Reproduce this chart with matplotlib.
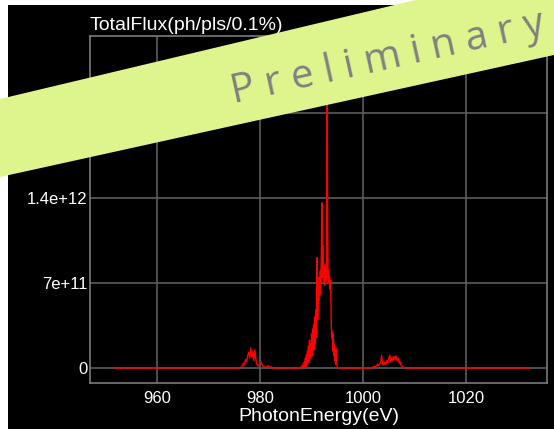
import numpy as np
import matplotlib
matplotlib.use("Agg")
import matplotlib.pyplot as plt
from matplotlib.patches import Rectangle, Polygon

# ---------------- data (flux in units of 1e11 ph/pls/0.1%) ----------------
e_start, e_end = 951.7, 1032.1

c1_start, c1_step = 976.0, 0.2
c1_flux = [0.0, 0.05, 0.1, 0.2, 0.4, 0.3, 0.7, 0.5, 1.0, 1.3,
           0.8, 1.65, 0.9, 1.4, 0.6, 1.5, 0.7, 0.3, 0.15, 0.25,
           0.4, 0.5, 0.3, 0.15, 0.1, 0.05, 0.1, 0.05, 0.2, 0.1,
           0.05, 0.1, 0.0, 0.0]

c2_start, c2_step = 987.8, 0.1
c2_flux = [0.0, 0.05, 0.1, 0.0, 0.2, 0.05, 0.3, 0.05, 0.5, 0.1,
           0.8, 0.1, 1.1, 0.3, 1.4, 0.4, 1.8, 0.5, 2.3, 0.8,
           2.0, 0.9, 2.8, 1.0, 3.2, 1.4, 3.6, 1.6, 4.2, 2.0,
           4.8, 2.5, 6.5, 9.1, 4.0, 7.0, 5.5, 7.5, 6.0, 8.0,
           7.0, 9.5, 13.6, 7.5, 10.1, 7.2, 8.0, 6.8, 8.5, 7.0,
           8.5, 7.2, 26.0, 13.8, 7.5, 8.0, 7.0, 7.5, 6.5, 7.2,
           4.5, 2.5, 3.0, 1.4, 2.8, 1.0, 2.0, 0.6, 1.5, 0.3,
           1.6, 0.3, 0.1, 0.05, 0.0]

c3_start, c3_step = 1001.6, 0.2
c3_flux = [0.0, 0.05, 0.1, 0.15, 0.1, 0.2, 0.3, 0.2, 0.35, 0.4,
           1.05, 0.3, 0.25, 0.5, 0.3, 0.6, 0.4, 0.8, 1.05, 0.5,
           0.9, 0.6, 0.95, 0.7, 1.0, 0.6, 0.8, 0.4, 0.5, 0.2,
           0.15, 0.05, 0.05, 0.0]

x_ticks = [960, 980, 1000, 1020]
y_ticks = [0, 7e11, 1.4e12, 2.1e12]
y_tick_labels = ["0", "7e+11", "1.4e+12", ""]

title_text = "TotalFlux(ph/pls/0.1%)"
x_label = "PhotonEnergy(eV)"
banner_text = "P r e l i m i n a r y"


def grid_of(start, step, vals):
    return list(np.round(start + step * np.arange(len(vals)), 3))


energy = ([e_start] + grid_of(c1_start, c1_step, c1_flux)
          + grid_of(c2_start, c2_step, c2_flux)
          + grid_of(c3_start, c3_step, c3_flux) + [e_end])
flux = np.array([0.0] + c1_flux + c2_flux + c3_flux + [0.0]) * 1e11

# ---------------- figure ----------------
W, H = 554, 429
fig = plt.figure(figsize=(W / 100, H / 100), dpi=100)
fig.patch.set_facecolor("white")

# black panel
fig.patches.append(Rectangle((8 / W, 0), 1 - 8 / W, 1 - 5 / H,
                             transform=fig.transFigure, facecolor="black",
                             edgecolor="none", zorder=-5))

ax = fig.add_axes([90 / W, (H - 383) / H, (547 - 90) / W, (383 - 36) / H])
ax.set_facecolor("black")
ax.plot(energy, flux, color="#ff0000", lw=1.0, zorder=3)

ax.set_xlim(947.0, 1035.7)
ax.set_ylim(-1.235e11, 2.734e12)
ax.set_xticks(x_ticks)
ax.set_xticklabels([str(t) for t in x_ticks])
ax.set_yticks(y_ticks)
ax.set_yticklabels(y_tick_labels)
ax.grid(True, color="#5c5c5c", lw=1.2)
ax.set_axisbelow(True)
for s in ax.spines.values():
    s.set_color("#7a7a7a")
    s.set_linewidth(1.2)
ax.tick_params(axis="both", length=0, colors="white", labelsize=12)
ax.tick_params(axis="x", pad=6)
ax.tick_params(axis="y", pad=2)
for lbl in ax.get_xticklabels() + ax.get_yticklabels():
    lbl.set_fontfamily("Liberation Sans")
ax.set_xlabel(x_label, color="white", fontsize=14, family="Liberation Sans",
              labelpad=1)

fig.text(90 / W, 1 - 30 / H, title_text, color="white", fontsize=14,
         family="Liberation Sans", ha="left", va="baseline")

# banner
pts_img = [(0, 99), (W, -33), (W, 55), (0, 177)]
pts = [(x / W, 1 - y / H) for x, y in pts_img]
fig.patches.append(Polygon(pts, closed=True, transform=fig.transFigure,
                           facecolor="#def48c", edgecolor="none", zorder=10))
fig.text(390 / W, 1 - 69 / H, banner_text, color="#808080", fontsize=29,
         family="Open Sans", rotation=12.5, rotation_mode="anchor",
         ha="center", va="baseline", zorder=11)

fig.savefig("out.png", dpi=100)
